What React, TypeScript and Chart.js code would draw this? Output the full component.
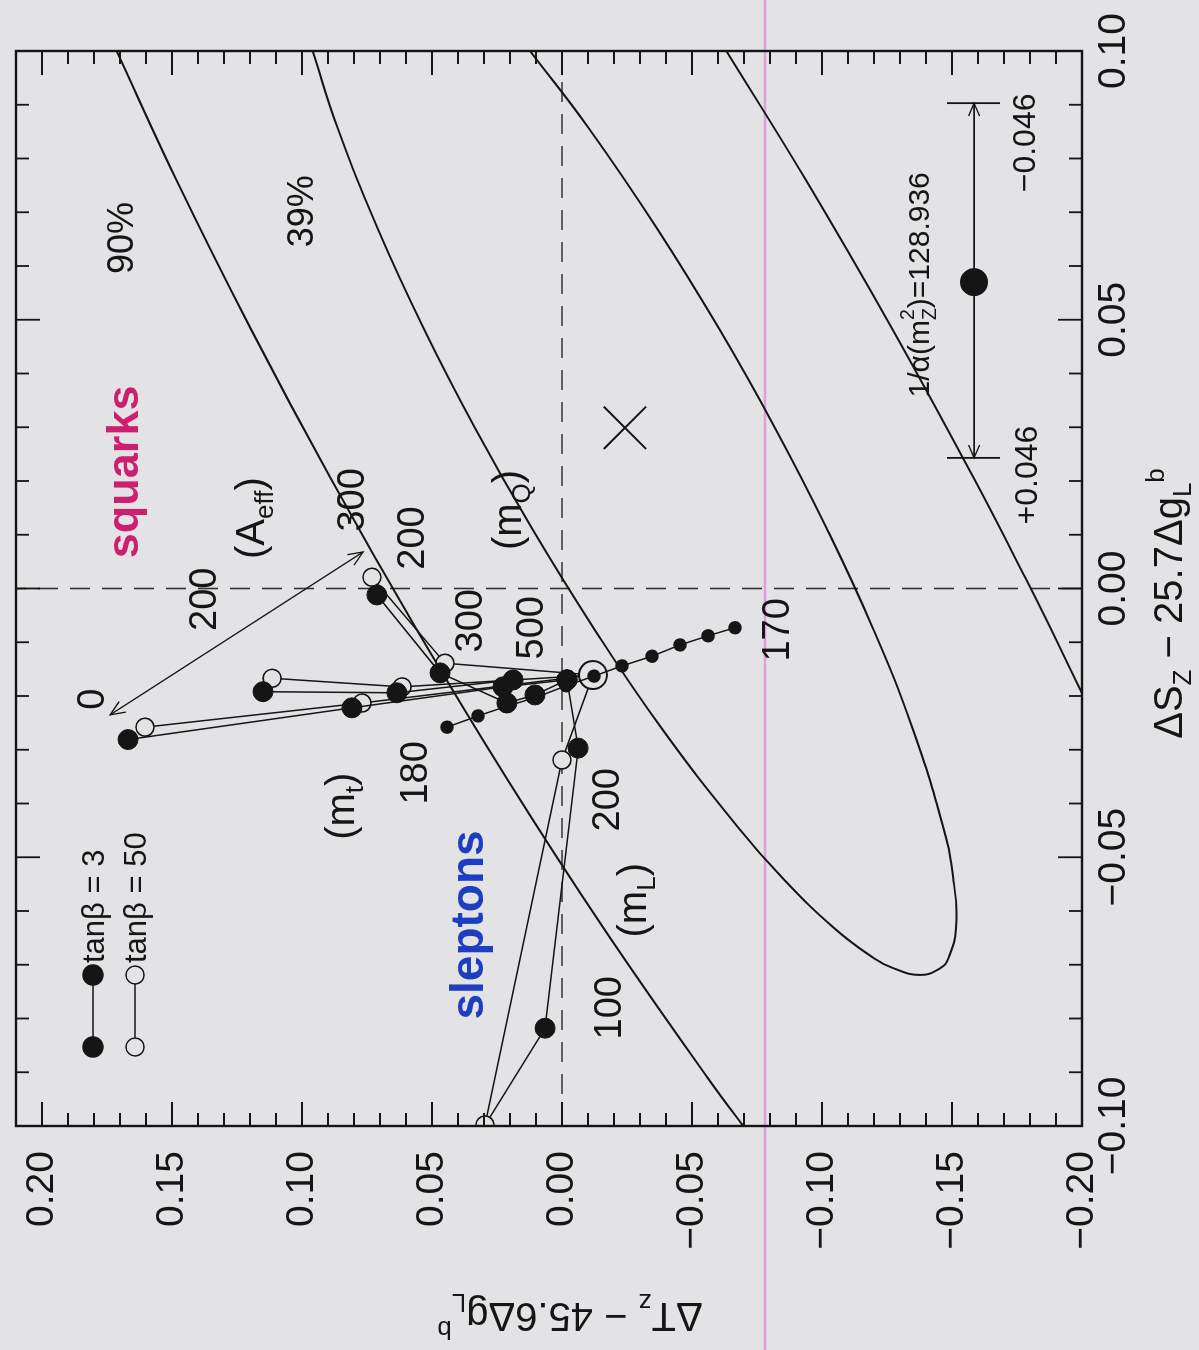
import React, { useEffect, useRef } from "react";
import { Chart, registerables } from "chart.js";

Chart.register(...registerables);

const CANVAS_W = 1350;
const CANVAS_H = 1199;
const BG = "#e3e2e4";
const INK = "#151515";
const FONT = "'Liberation Sans', Arial, Helvetica, sans-serif";

// ---- axes ----
const sMin = -0.1;
const sMax = 0.1;
const tMin = -0.2;
const tMax = 0.21;
const sTickValues = [-0.1, -0.05, 0, 0.05, 0.1];
const tTickValues = [-0.2, -0.15, -0.1, -0.05, 0, 0.05, 0.1, 0.15, 0.2];

// ---- contours (ΔS, ΔT) ----
const ell39S = [0.1, 0.0857, 0.0671, 0.0485, 0.0299, 0.0113, -0.0073, -0.026, -0.0446, -0.0539, -0.0632, -0.0688, -0.0706, -0.0719, -0.0706, -0.0688, -0.0632, -0.0539, -0.0446, -0.026, -0.0073, 0.0113, 0.0299, 0.0485, 0.0671, 0.0857, 0.1];
const ell39T = [0.0959, 0.0863, 0.071, 0.0533, 0.0335, 0.0117, -0.0121, -0.0383, -0.068, -0.0849, -0.1047, -0.12, -0.1272, -0.1378, -0.1456, -0.1486, -0.1515, -0.1505, -0.1467, -0.1348, -0.1195, -0.1017, -0.0819, -0.0602, -0.0364, -0.0102, 0.0123];
const ell90LeftS = [0.1, 0.0764, 0.0485, 0.0206, -0.0073, -0.0353, -0.0632, -0.0911, -0.1022];
const ell90LeftT = [0.1713, 0.1487, 0.1199, 0.0891, 0.0563, 0.0213, -0.016, -0.0561, -0.0731];
const ell90RightS = [0.1, 0.0764, 0.0485, 0.0206, 0.002, -0.0073, -0.0222];
const ell90RightT = [-0.0632, -0.0933, -0.1268, -0.1583, -0.1782, -0.1878, -0.2027];

// ---- best fit ----
const bestS = [0.0299];
const bestT = [-0.0242];

// ---- m_t scan (170 ... 180) ----
const mtS = [-0.0073, -0.0088, -0.0105, -0.0126, -0.0144, -0.0163, -0.0181, -0.0202, -0.0219, -0.0237, -0.0258];
const mtT = [-0.0665, -0.0562, -0.0454, -0.0346, -0.0231, -0.0123, -0.0015, 0.0096, 0.0212, 0.0323, 0.0442];
const refS = [-0.0161];
const refT = [-0.0119];

// ---- tanβ = 3 (filled) ----
const t3aS = [-0.0281, -0.0222, -0.0183, -0.017];
const t3aT = [0.1669, 0.0808, 0.0227, -0.0019];
const t3bS = [-0.0192, -0.0194, -0.017];
const t3bT = [0.115, 0.0635, 0.0188];
const t3cS = [-0.0012, -0.0157, -0.0213, -0.0198, -0.017];
const t3cT = [0.0712, 0.0469, 0.0212, 0.0104, -0.0019];
const t3dS = [-0.017, -0.0297, -0.0818];
const t3dT = [-0.0019, -0.0062, 0.0065];

// ---- tanβ = 50 (open) ----
const t50aS = [-0.0258, -0.0213, -0.0161];
const t50aT = [0.1604, 0.0769, -0.0119];
const t50bS = [-0.0167, -0.0183, -0.0161];
const t50bT = [0.1115, 0.0615, -0.0119];
const t50cS = [0.0021, -0.0139, -0.0161];
const t50cT = [0.0731, 0.045, -0.0119];
const t50dS = [-0.0161, -0.0319, -0.0998];
const t50dT = [-0.0119, 0.0, 0.0296];
// link between the two low-m_L ends
const lowLS = [-0.0818, -0.0998];
const lowLT = [0.0065, 0.0296];

// ---- A_eff arrow ----
const aeffS = [-0.0235, 0.0068];
const aeffT = [0.1738, 0.0765];

// ---- 1/alpha shift bar ----
const alphaBarS = [0.0243, 0.0903];
const alphaBarT = [-0.1585, -0.1585];
const alphaCapT = [-0.1481, -0.1685];
const alphaDotS = [0.057];
const alphaDotT = [-0.1585];

// scan artefact line
const pinkT = -0.0781;

type Part = { t: string; sub?: boolean; sup?: boolean; over?: string };
type Note = { parts: Part[]; s: number; t: number; size: number; weight?: string; color?: string; v?: number };

const notes: Note[] = [
  { parts: [{ t: "90%" }], s: 0.0652, t: 0.17, size: 36 },
  { parts: [{ t: "39%" }], s: 0.0702, t: 0.1008, size: 36 },
  { parts: [{ t: "squarks" }], s: 0.0217, t: 0.1681, size: 45, weight: "bold", color: "#cc1f6e", v: 0.28 },
  { parts: [{ t: "(A" }, { t: "eff", sub: true }, { t: ")" }], s: 0.0131, t: 0.1188, size: 40, v: 0.28 },
  { parts: [{ t: "200" }], s: -0.002, t: 0.1385, size: 38 },
  { parts: [{ t: "0" }], s: -0.0206, t: 0.1815, size: 38 },
  { parts: [{ t: "300" }], s: 0.0165, t: 0.0815, size: 38 },
  { parts: [{ t: "200" }], s: 0.0094, t: 0.0585, size: 38 },
  { parts: [{ t: "(m" }, { t: "Q", sub: true }, { t: ")" }], s: 0.0146, t: 0.02, size: 40, v: 0.28 },
  { parts: [{ t: "300" }], s: -0.006, t: 0.0362, size: 38 },
  { parts: [{ t: "500" }], s: -0.0073, t: 0.0127, size: 38 },
  { parts: [{ t: "170" }], s: -0.0077, t: -0.0819, size: 38 },
  { parts: [{ t: "180" }], s: -0.0343, t: 0.0573, size: 38 },
  { parts: [{ t: "(m" }, { t: "t", sub: true }, { t: ")" }], s: -0.0405, t: 0.0842, size: 40, v: 0.28 },
  { parts: [{ t: "200" }], s: -0.0393, t: -0.0165, size: 38 },
  { parts: [{ t: "(m" }, { t: "L", sub: true }, { t: ")" }], s: -0.058, t: -0.0281, size: 40, v: 0.28 },
  { parts: [{ t: "100" }], s: -0.078, t: -0.0173, size: 38 },
  { parts: [{ t: "sleptons" }], s: -0.0626, t: 0.0354, size: 46, weight: "bold", color: "#1d3fbf", v: 0.28 },
  { parts: [{ t: "1/α(m" }, { t: "Z", sub: true, over: "2" }, { t: ")=128.936" }], s: 0.0565, t: -0.1377, size: 30, v: 0.3 },
  { parts: [{ t: "\u22120.046" }], s: 0.0829, t: -0.1773, size: 32 },
  { parts: [{ t: "+0.046" }], s: 0.0211, t: -0.1781, size: 32 },
];

const xTitle: Part[] = [{ t: "ΔS" }, { t: "Z", sub: true }, { t: " \u2212 25.7Δg" }, { t: "L", sub: true }, { t: "b", sup: true }];
const yTitle: Part[] = [{ t: "ΔT" }, { t: "z", sub: true }, { t: " \u2212 45.6Δg" }, { t: "L", sub: true }, { t: "b", sup: true }];
const legendLabels = ["tanβ = 3", "tanβ = 50"];
const legendT = [0.1804, 0.1642];

const fmt = (v: number) => {
  const s = Math.abs(v) < 1e-9 ? "0.00" : v.toFixed(2);
  return s.replace("-", "\u2212");
};

const P = (xs: number[], ys: number[]) => xs.map((x, i) => ({ x, y: ys[i] }));

function drawRich(ctx: CanvasRenderingContext2D, parts: Part[], x: number, y: number, size: number, align: string, weight = "normal", color = INK, rot = 0) {
  ctx.save();
  ctx.translate(x, y);
  if (rot) ctx.rotate(rot);
  ctx.fillStyle = color;
  ctx.textBaseline = "alphabetic";
  ctx.textAlign = "left";
  const sm = size * 0.65;
  const fBig = `${weight} ${size}px ${FONT}`;
  const fSm = `${weight} ${sm}px ${FONT}`;
  const widths = parts.map((p) => {
    ctx.font = p.sub || p.sup ? fSm : fBig;
    let w = ctx.measureText(p.t).width;
    if (p.over) {
      ctx.font = fSm;
      w = Math.max(w, ctx.measureText(p.over).width);
    }
    return w;
  });
  const total = widths.reduce((a, b) => a + b, 0);
  let cx = align === "center" ? -total / 2 : align === "right" ? -total : 0;
  parts.forEach((p, i) => {
    if (p.sub) {
      ctx.font = fSm;
      ctx.fillText(p.t, cx, size * 0.22);
      if (p.over) ctx.fillText(p.over, cx, -size * 0.5);
    } else if (p.sup) {
      ctx.font = fSm;
      ctx.fillText(p.t, cx, -size * 0.45);
    } else {
      ctx.font = fBig;
      ctx.fillText(p.t, cx, 0);
    }
    cx += widths[i];
  });
  ctx.restore();
}

function arrowHead(ctx: CanvasRenderingContext2D, x0: number, y0: number, x1: number, y1: number, size: number) {
  const a = Math.atan2(y1 - y0, x1 - x0);
  ctx.beginPath();
  ctx.moveTo(x1 - size * Math.cos(a - 0.4), y1 - size * Math.sin(a - 0.4));
  ctx.lineTo(x1, y1);
  ctx.lineTo(x1 - size * Math.cos(a + 0.4), y1 - size * Math.sin(a + 0.4));
  ctx.stroke();
}

const decor = {
  id: "decor",
  beforeDraw(chart: any) {
    const ctx = chart.ctx as CanvasRenderingContext2D;
    ctx.save();
    ctx.fillStyle = BG;
    ctx.fillRect(0, 0, chart.width, chart.height);
    const y = chart.scales.y.getPixelForValue(pinkT);
    ctx.strokeStyle = "rgba(226,150,226,0.9)";
    ctx.lineWidth = 2.5;
    ctx.beginPath();
    ctx.moveTo(0, y);
    ctx.lineTo(chart.width, y);
    ctx.stroke();
    ctx.restore();
  },
  afterDatasetsDraw(chart: any) {
    const ctx = chart.ctx as CanvasRenderingContext2D;
    const xs = chart.scales.x;
    const ys = chart.scales.y;
    const { left, right, top, bottom } = chart.chartArea;
    ctx.save();
    // frame
    ctx.strokeStyle = INK;
    ctx.lineWidth = 2.4;
    ctx.strokeRect(left, top, right - left, bottom - top);
    // inward ticks
    ctx.lineWidth = 1.8;
    ctx.beginPath();
    for (let k = -10; k <= 10; k++) {
      const px = xs.getPixelForValue(k / 100);
      const len = k % 5 === 0 ? 24 : 13;
      ctx.moveTo(px, bottom);
      ctx.lineTo(px, bottom - len);
      ctx.moveTo(px, top);
      ctx.lineTo(px, top + len);
    }
    for (let k = -20; k <= 20; k++) {
      const py = ys.getPixelForValue(k / 100);
      const len = k % 5 === 0 ? 24 : 13;
      ctx.moveTo(left, py);
      ctx.lineTo(left + len, py);
      ctx.moveTo(right, py);
      ctx.lineTo(right - len, py);
    }
    ctx.stroke();

    // A_eff arrow heads
    ctx.lineWidth = 1.3;
    const ax0 = xs.getPixelForValue(aeffS[0]);
    const ay0 = ys.getPixelForValue(aeffT[0]);
    const ax1 = xs.getPixelForValue(aeffS[1]);
    const ay1 = ys.getPixelForValue(aeffT[1]);
    arrowHead(ctx, ax1, ay1, ax0, ay0, 16);
    arrowHead(ctx, ax0, ay0, ax1, ay1, 16);

    // alpha bar arrow heads and caps
    const bx0 = xs.getPixelForValue(alphaBarS[0]);
    const bx1 = xs.getPixelForValue(alphaBarS[1]);
    const by = ys.getPixelForValue(alphaBarT[0]);
    arrowHead(ctx, bx1, by, bx0, by, 14);
    arrowHead(ctx, bx0, by, bx1, by, 14);
    ctx.lineWidth = 1.8;
    ctx.beginPath();
    for (const bx of [bx0, bx1]) {
      ctx.moveTo(bx, ys.getPixelForValue(alphaCapT[0]));
      ctx.lineTo(bx, ys.getPixelForValue(alphaCapT[1]));
    }
    ctx.stroke();

    // annotations
    for (const n of notes) {
      const px = xs.getPixelForValue(n.s);
      const py = ys.getPixelForValue(n.t) + (n.v ?? 0.36) * n.size;
      drawRich(ctx, n.parts, px, py, n.size, "center", n.weight ?? "normal", n.color ?? INK);
    }

    // legend
    const lx0 = left + 79;
    const lx1 = left + 151;
    legendLabels.forEach((lab, i) => {
      const ly = ys.getPixelForValue(legendT[i]);
      ctx.strokeStyle = INK;
      ctx.lineWidth = 1.5;
      ctx.beginPath();
      ctx.moveTo(lx0, ly);
      ctx.lineTo(lx1, ly);
      ctx.stroke();
      for (const mx of [lx0, lx1]) {
        ctx.beginPath();
        ctx.arc(mx, ly, i === 0 ? 10 : 9, 0, Math.PI * 2);
        ctx.fillStyle = i === 0 ? INK : BG;
        ctx.fill();
        ctx.lineWidth = 1.5;
        ctx.stroke();
      }
      drawRich(ctx, [{ t: lab }], lx1 + 12, ly + 0.36 * 31, 31, "left");
    });

    // axis titles
    drawRich(ctx, xTitle, (left + right) / 2 - 15, bottom + 100, 40, "center");
    drawRich(ctx, yTitle, left - 177, (top + bottom) / 2 + 21, 40, "center", "normal", INK, -Math.PI / 2);
    ctx.restore();
  },
};

export default function App() {
  const ref = useRef<HTMLCanvasElement | null>(null);
  useEffect(() => {
    document.body.style.margin = "0";
    document.body.style.background = BG;
    const canvas = ref.current;
    if (!canvas) return;
    const line = (data: any[], extra: any = {}) => ({
      data,
      showLine: true,
      pointRadius: 0,
      borderColor: INK,
      borderWidth: 2,
      tension: 0,
      fill: false,
      ...extra,
    });
    const filled = (data: any[]) =>
      line(data, { borderWidth: 1.5, pointRadius: 10, pointBackgroundColor: INK, pointBorderColor: INK, pointBorderWidth: 1, order: 3 });
    const open = (data: any[]) =>
      line(data, { borderWidth: 1.5, pointRadius: 9, pointBackgroundColor: BG, pointBorderColor: INK, pointBorderWidth: 1.6, order: 4 });

    const datasets: any[] = [
      line([{ x: sMin, y: 0 }, { x: sMax, y: 0 }], { borderWidth: 1.6, borderDash: [20, 12], borderColor: "#333", order: 20 }),
      line([{ x: 0, y: tMin }, { x: 0, y: tMax }], { borderWidth: 1.6, borderDash: [20, 12], borderColor: "#333", order: 20 }),
      line(P(ell39S, ell39T), { tension: 0.45, order: 15 }),
      line(P(ell90LeftS, ell90LeftT), { tension: 0.4, order: 15 }),
      line(P(ell90RightS, ell90RightT), { tension: 0.4, order: 15 }),
      line(P(aeffS, aeffT), { borderWidth: 1.3, order: 12 }),
      line(P(alphaBarS, alphaBarT), { borderWidth: 1.6, order: 12 }),
      line(P(alphaDotS, alphaDotT), { showLine: false, pointRadius: 13, pointBackgroundColor: INK, pointBorderColor: INK, order: 11 }),
      line(P(bestS, bestT), { showLine: false, pointStyle: "crossRot", pointRadius: 30, pointBorderWidth: 2, pointBorderColor: INK, order: 11 }),
      line(P(lowLS, lowLT), { borderWidth: 1.5, order: 6 }),
      open(P(t50aS, t50aT)),
      open(P(t50bS, t50bT)),
      open(P(t50cS, t50cT)),
      open(P(t50dS, t50dT)),
      filled(P(t3aS, t3aT)),
      filled(P(t3bS, t3bT)),
      filled(P(t3cS, t3cT)),
      filled(P(t3dS, t3dT)),
      line(P(refS, refT), { showLine: false, pointRadius: 14, pointBackgroundColor: BG, pointBorderColor: INK, pointBorderWidth: 2, order: 2 }),
      line(P(mtS, mtT), { borderWidth: 1.5, pointRadius: 6, pointBackgroundColor: INK, pointBorderColor: INK, order: 1 }),
    ];

    const tickFont = { family: FONT, size: 39 };
    const chart = new Chart(canvas, {
      type: "scatter",
      data: { datasets },
      plugins: [decor],
      options: {
        responsive: false,
        animation: false,
        devicePixelRatio: 1,
        events: [],
        layout: { autoPadding: false, padding: { top: 16, right: 51, bottom: 0, left: 0 } },
        plugins: { legend: { display: false }, tooltip: { enabled: false } },
        scales: {
          x: {
            type: "linear",
            position: "bottom",
            min: sMin,
            max: sMax,
            grid: { display: false, drawTicks: false },
            border: { display: false },
            afterBuildTicks: (s: any) => {
              s.ticks = sTickValues.map((v) => ({ value: v }));
            },
            afterFit: (s: any) => {
              s.height = 117;
              s.paddingLeft = 0;
              s.paddingRight = 0;
            },
            ticks: { font: tickFont, color: INK, padding: 9, autoSkip: false, maxRotation: 0, minRotation: 0, callback: (v: any) => fmt(Number(v)) },
          },
          y: {
            type: "linear",
            position: "left",
            min: tMin,
            max: tMax,
            grid: { display: false, drawTicks: false },
            border: { display: false },
            afterBuildTicks: (s: any) => {
              s.ticks = tTickValues.map((v) => ({ value: v }));
            },
            afterFit: (s: any) => {
              s.width = 224;
              s.paddingTop = 0;
              s.paddingBottom = 0;
            },
            ticks: { font: tickFont, color: INK, padding: 25, autoSkip: false, callback: (v: any) => fmt(Number(v)) },
          },
        },
      } as any,
    });
    return () => chart.destroy();
  }, []);

  return (
    <div style={{ position: "absolute", left: 0, top: 0, width: 1199, height: 1350, overflow: "hidden", background: BG }}>
      <canvas
        ref={ref}
        width={CANVAS_W}
        height={CANVAS_H}
        style={{
          position: "absolute",
          left: 0,
          top: 0,
          width: CANVAS_W,
          height: CANVAS_H,
          transformOrigin: "0 0",
          transform: "translate(0px, 1350px) rotate(-90deg)",
        }}
      />
    </div>
  );
}
